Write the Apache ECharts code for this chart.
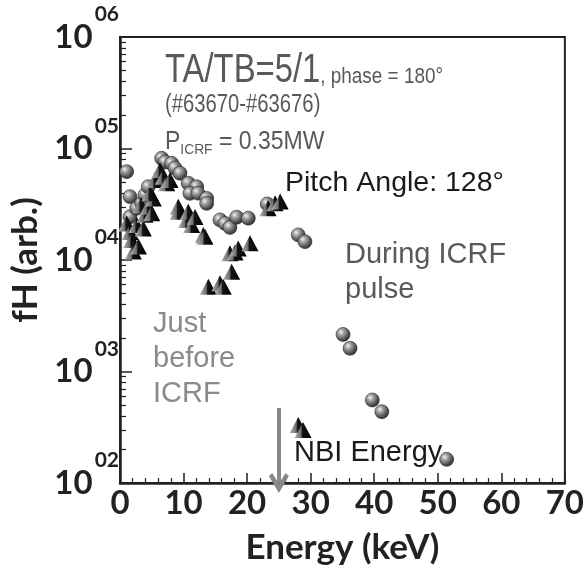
<!DOCTYPE html>
<html>
<head>
<meta charset="utf-8">
<script src="https://cdn.jsdelivr.net/npm/echarts@6/dist/echarts.min.js"></script>
<style>html,body{margin:0;padding:0;background:#fff}#c{width:587px;height:574px}</style>
</head>
<body>
<div id="c"></div>
<script>
// ---- data (keV, arb.) ----
const beforeX = [1.05, 1.6, 1.84, 2.1, 2.63, 2.9, 3.3, 3.67, 3.93, 4.45, 5.0, 5.24, 4.72, 5.5, 6.29, 6.81, 7.35, 7.87, 9.17, 9.17, 10.5, 10.74, 11.28, 11.8, 13.1, 13.37, 13.9, 15.73, 16.25, 17.57, 17.3, 18.1, 18.6, 20.45, 23.3, 24.4, 25.2, 28.05, 28.8];
const beforeY = [21300, 17800, 15100, 11900, 20600, 13200, 31000, 19200, 25400, 30100, 26200, 35700, 39600, 52200, 64100, 55800, 48800, 52100, 30100, 27100, 22800, 27100, 20600, 24300, 16800, 16200, 5770, 6180, 5770, 7850, 11500, 11700, 12700, 14100, 29100, 32300, 33400, 331, 299];
const duringX = [1.05, 1.57, 1.57, 2.63, 3.41, 3.93, 4.45, 6.56, 7.08, 8.13, 8.65, 9.44, 10.74, 12.07, 11.0, 12.27, 13.64, 13.64, 15.73, 16.52, 17.3, 18.36, 20.18, 23.17, 28.05, 29.1, 35.1, 36.2, 39.7, 41.2, 51.4];
const duringY = [62000, 37000, 24400, 29100, 32200, 38300, 45400, 81700, 75700, 73600, 66800, 60000, 48800, 45400, 39600, 39800, 35700, 32200, 22900, 21300, 19600, 24200, 23700, 31800, 16800, 14600, 2150, 1615, 555, 436, 163];
const xTicks = [0, 10, 20, 30, 40, 50, 60, 70];
const yDecades = [100, 1000, 10000, 100000, 1000000];
const yExpLabels = ['02', '03', '04', '05', '06'];
const nbiEnergy = 25;
const arrowTop = 471;

const yMinor = [];
yDecades.slice(0, -1).forEach(d => { for (let k = 2; k <= 9; k++) yMinor.push(d * k); });

const chart = echarts.init(document.getElementById('c'), null, {renderer: 'canvas'});
const axisColor = '#222';
const boldFont = 'Lato';
const annFont = '"Liberation Sans", Arial, sans-serif';
const measureCtx = document.createElement('canvas').getContext('2d');

function zip(xs, ys) { return xs.map((x, i) => [x, ys[i]]); }

const sphere = {
  type: 'radial', x: 0.36, y: 0.34, r: 0.75,
  colorStops: [
    {offset: 0, color: '#f4f4f4'},
    {offset: 0.25, color: '#a9a9a9'},
    {offset: 0.7, color: '#4d4d4d'},
    {offset: 1, color: '#262626'}
  ]
};
const pyramid = {
  type: 'linear', x: 0, y: 0, x2: 1, y2: 0,
  colorStops: [
    {offset: 0, color: '#b5b5b5'},
    {offset: 0.38, color: '#6e6e6e'},
    {offset: 0.46, color: '#141414'},
    {offset: 1, color: '#000'}
  ]
};

function txt(text, x, yBase, fs, color, sx) {
  return {
    type: 'text', silent: true, z: 50, x: x, y: yBase + fs * 0.21, scaleX: sx || 1,
    style: {text: text, x: 0, y: 0, font: fs + 'px ' + annFont, fill: color, verticalAlign: 'bottom', align: 'left'}
  };
}
// lay out consecutive pieces on one baseline: [text, fontSize, baselineShift, scaleX]
function seq(pieces, x0, yBase, color, sx) {
  const out = [];
  let x = x0;
  pieces.forEach(p => {
    const s = p[3] || sx;
    out.push(txt(p[0], x, yBase + (p[2] || 0), p[1], color, s));
    measureCtx.font = p[1] + 'px ' + annFont;
    x += measureCtx.measureText(p[0]).width * s;
  });
  return out;
}

const graphics = [].concat(
  seq([['TA/TB=5/1', 40, 0, 0.82], [', phase = 180°', 22, 0, 0.86]], 165, 83, '#595959', 0.82),
  seq([['(#63670-#63676)', 25]], 165, 112, '#595959', 0.81),
  seq([['P', 25], ['ICRF', 15, 5], [' = 0.35MW', 25]], 165, 149, '#595959', 0.92),
  [
    txt('Pitch Angle: 128°', 285, 192, 28.5, '#1a1a1a'),
    txt('During ICRF', 345, 263, 29, '#595959'),
    txt('pulse', 345, 298, 29, '#595959'),
    txt('Just', 153, 332, 29, '#8a8a8a'),
    txt('before', 153, 367, 29, '#8a8a8a'),
    txt('ICRF', 153, 402, 29, '#8a8a8a'),
    txt('NBI Energy', 294, 461, 29, '#1a1a1a')
  ]
);

const option = {
  animation: false,
  backgroundColor: '#fff',
  grid: {left: 120, right: 22, top: 37, bottom: 91, show: true, borderColor: axisColor, borderWidth: 2, backgroundColor: 'transparent'},
  xAxis: {
    type: 'value', min: 0, max: 70, interval: 10,
    name: 'Energy (keV)', nameLocation: 'middle', nameGap: 47,
    nameTextStyle: {fontFamily: boldFont, fontWeight: 'bold', fontSize: 35, color: '#222'},
    axisLine: {show: true, lineStyle: {color: axisColor, width: 2.5}},
    axisTick: {show: true, inside: true, length: 10, lineStyle: {color: axisColor, width: 1.5}},
    minorTick: {show: true, splitNumber: 5, length: 5, lineStyle: {color: axisColor, width: 1.2}},
    splitLine: {show: false},
    axisLabel: {margin: 4, fontFamily: boldFont, fontWeight: 'bold', fontSize: 33, color: '#222',
      customValues: xTicks}
  },
  yAxis: [{
    type: 'log', logBase: 10, min: 100, max: 1000000,
    name: 'fH (arb.)', nameLocation: 'middle', nameGap: 67,
    nameTextStyle: {fontFamily: boldFont, fontWeight: 'bold', fontSize: 35, color: '#222'},
    axisLine: {show: true, lineStyle: {color: axisColor, width: 2.5}},
    axisTick: {show: true, inside: true, length: 12, lineStyle: {color: axisColor, width: 1.5}, customValues: yDecades},
    splitLine: {show: false},
    axisLabel: {
      margin: 1, customValues: yDecades,
      formatter: function (v) {
        const i = yDecades.indexOf(v);
        return '{b|10}{s|' + (i >= 0 ? yExpLabels[i] : '') + '}';
      },
      rich: {
        b: {fontFamily: boldFont, fontWeight: 'bold', fontSize: 33, lineHeight: 66, color: '#222', verticalAlign: 'middle', padding: [0, 2, 0, 0]},
        s: {fontFamily: boldFont, fontWeight: 'bold', fontSize: 21, lineHeight: 21, color: '#222', verticalAlign: 'top'}
      }
    }
  }, {
    type: 'log', logBase: 10, min: 100, max: 1000000, position: 'left', gridIndex: 0,
    axisLine: {show: false},
    axisLabel: {show: false},
    splitLine: {show: false},
    axisTick: {show: true, inside: true, length: 6, lineStyle: {color: axisColor, width: 1.2}, customValues: yMinor}
  }],
  series: [{
    type: 'scatter', name: 'During ICRF pulse', z: 3,
    data: zip(duringX, duringY),
    symbol: 'circle', symbolSize: 14,
    itemStyle: {color: sphere, borderColor: '#2a2a2a', borderWidth: 0.6, opacity: 1},
    markLine: {
      silent: true, animation: false,
      symbol: ['none', 'path://M10,0 L20,12 L16.6,14.2 L10,6.4 L3.4,14.2 L0,12 Z'],
      symbolSize: [20, 20],
      label: {show: false},
      lineStyle: {color: '#888', width: 4, type: 'solid'},
      data: [[{coord: [nbiEnergy, arrowTop]}, {coord: [nbiEnergy, 100]}]]
    }
  }, {
    type: 'scatter', name: 'Just before ICRF', z: 4,
    data: zip(beforeX, beforeY),
    symbol: 'triangle', symbolSize: [17, 16],
    itemStyle: {color: pyramid, opacity: 1}
  }],
  graphic: graphics
};
chart.setOption(option);
</script>
</body>
</html>
